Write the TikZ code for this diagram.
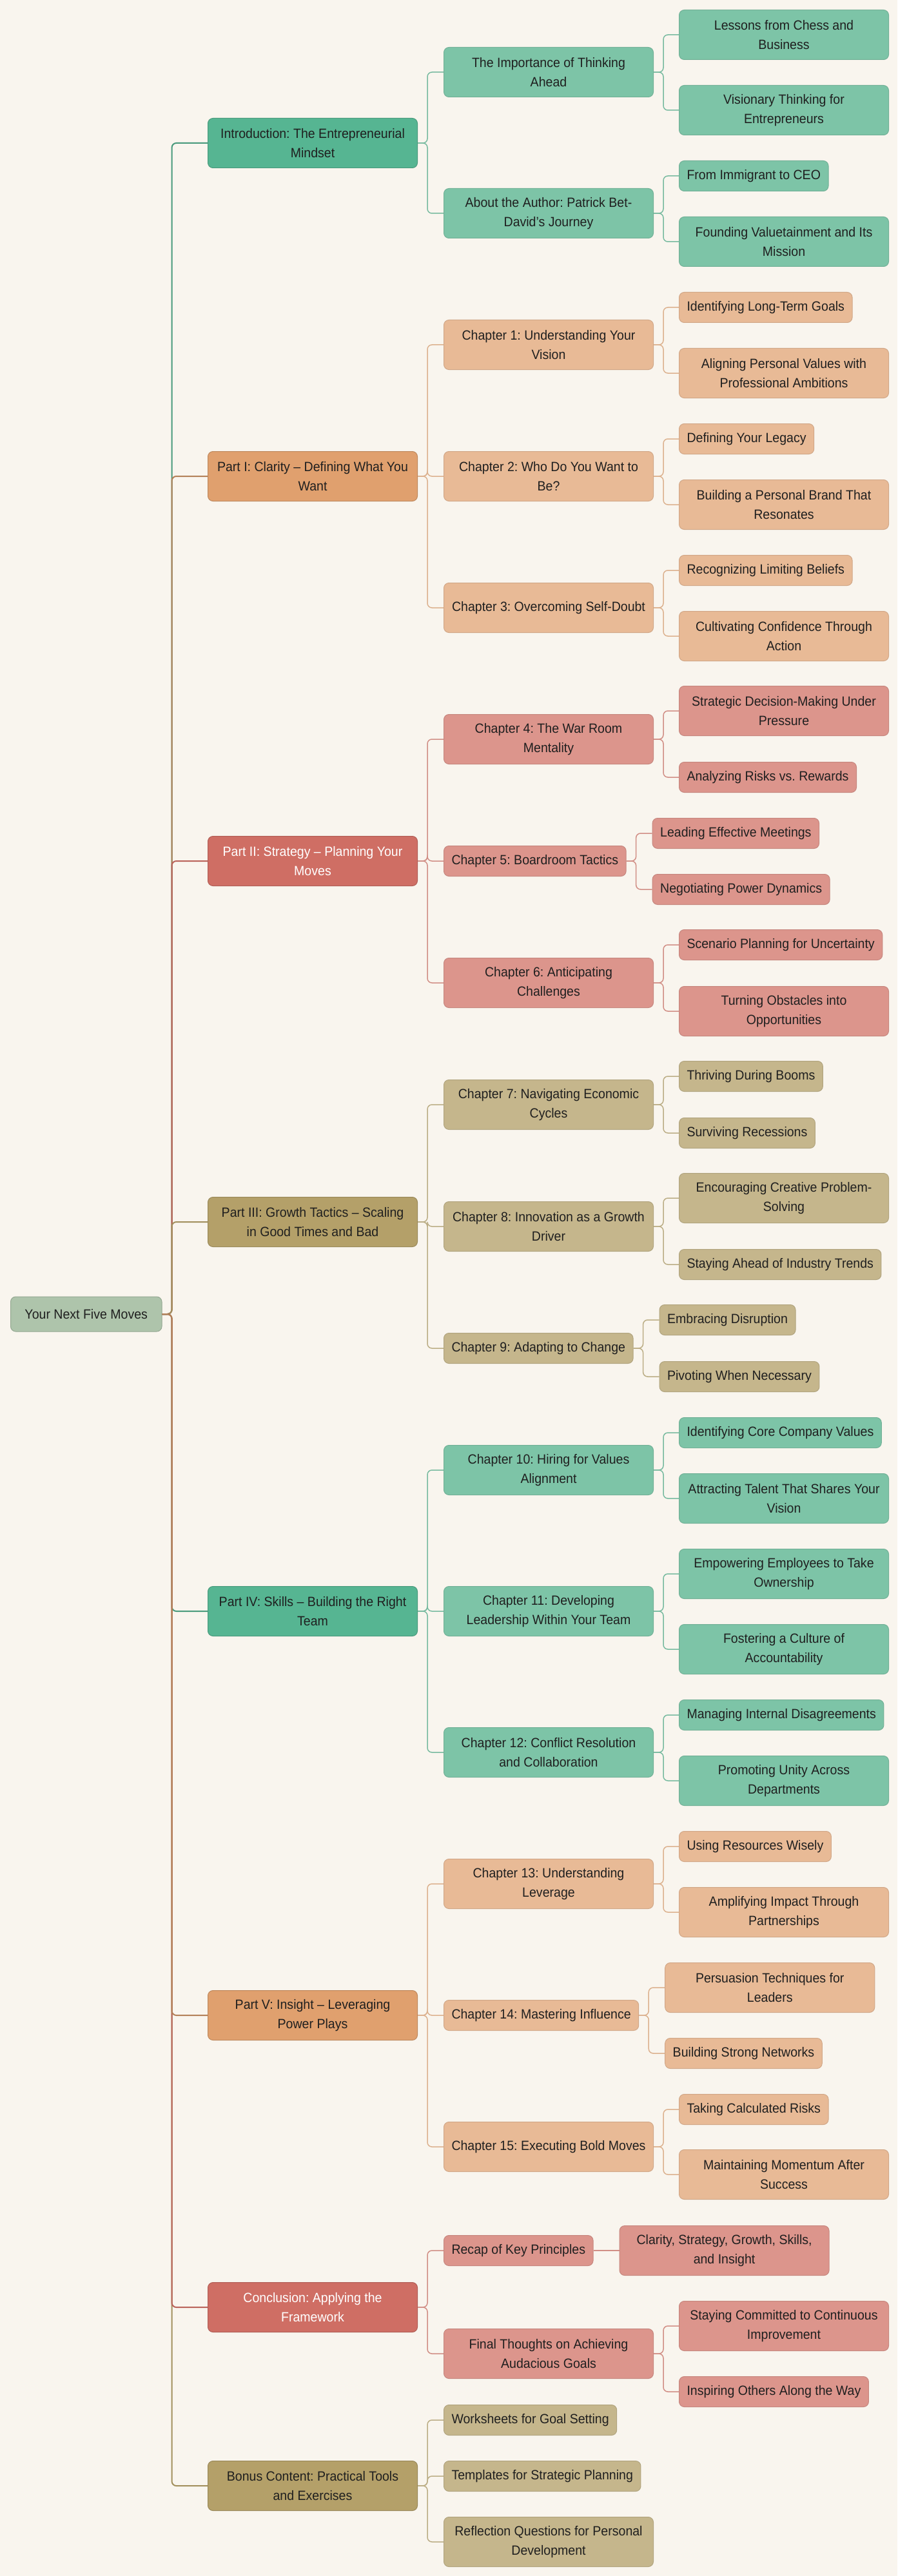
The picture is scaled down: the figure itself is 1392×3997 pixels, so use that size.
\documentclass[tikz,border=0pt]{standalone}
\usepackage{fontspec}
\setmainfont{Liberation Sans}[FakeStretch=0.94]
\usepackage{tikz}
\usetikzlibrary{calc}
\frenchspacing
\definecolor{paper}{HTML}{F9F5EE}
\definecolor{ink}{HTML}{1F1F1F}
\definecolor{sage}{HTML}{AEC4AB}
\definecolor{tealA}{HTML}{56B592}
\definecolor{tealB}{HTML}{7DC4A7}
\definecolor{orangeA}{HTML}{E0A06E}
\definecolor{orangeB}{HTML}{E8BA96}
\definecolor{redA}{HTML}{CF6E64}
\definecolor{redB}{HTML}{DC958C}
\definecolor{oliveA}{HTML}{B4A069}
\definecolor{oliveB}{HTML}{C5B68C}
\begin{document}
\begin{tikzpicture}
[x=0.5pt, y=-0.5pt,
box/.style={rounded corners=4pt, line width=0.5pt, inner xsep=6pt, inner ysep=2pt, align=center, anchor=west, text=ink, font=\fontsize{10.4pt}{15pt}\selectfont},
long box/.style={box, minimum width=162.5pt, minimum height=38.5pt},
short box/.style={box, minimum height=23.5pt},
core/.style={box, fill=sage, draw=sage!85!black, inner xsep=11pt, minimum height=27pt},
green part/.style={long box, fill=tealA, draw=tealA!85!black},
green chapter/.style={fill=tealB, draw=tealB!90!black},
orange part/.style={long box, fill=orangeA, draw=orangeA!85!black},
orange chapter/.style={fill=orangeB, draw=orangeB!90!black},
red part/.style={long box, fill=redA, draw=redA!85!black, text=white},
red chapter/.style={fill=redB, draw=redB!90!black},
olive part/.style={long box, fill=oliveA, draw=oliveA!85!black},
olive chapter/.style={fill=oliveB, draw=oliveB!90!black},
green trunk/.style={draw=tealA!85!black, line width=1pt, rounded corners=3.5pt},
orange trunk/.style={draw=orangeA!80!black, line width=1pt, rounded corners=3.5pt},
red trunk/.style={draw=redA!90!black, line width=1pt, rounded corners=3.5pt},
olive trunk/.style={draw=oliveA!90!black, line width=1pt, rounded corners=3.5pt},
green branch/.style={draw=tealB!95!black, line width=0.75pt, rounded corners=3.5pt},
orange branch/.style={draw=orangeB!95!black, line width=0.75pt, rounded corners=3.5pt},
red branch/.style={draw=redB!95!black, line width=0.75pt, rounded corners=3.5pt},
olive branch/.style={draw=oliveB!95!black, line width=0.75pt, rounded corners=3.5pt}]
\fill[paper] (0,0) rectangle (1392,3997);
\useasboundingbox (0,0) rectangle (1392,3997);
\node[core] (moves) at (16,2039) {Your Next Five Moves};
\node[green part] (intro) at (322,222) {Introduction: The Entrepreneurial\\Mindset};
\node[orange part] (clarity) at (322,739) {Part I: Clarity – Defining What You\\Want};
\node[red part] (strategy) at (322,1336) {Part II: Strategy – Planning Your\\Moves};
\node[olive part] (growth) at (322,1896) {Part III: Growth Tactics – Scaling\\in Good Times and Bad};
\node[green part] (skills) at (322,2500) {Part IV: Skills – Building the Right\\Team};
\node[orange part] (insight) at (322,3127) {Part V: Insight – Leveraging\\Power Plays};
\node[red part] (conclusion) at (322,3580) {Conclusion: Applying the\\Framework};
\node[olive part] (bonus) at (322,3857) {Bonus Content: Practical Tools\\and Exercises};
\node[green chapter, long box] (ahead) at (688,112) {The Importance of Thinking\\Ahead};
\node[green chapter, long box] (author) at (688,331) {About the Author: Patrick Bet-\\David’s Journey};
\node[orange chapter, long box] (chone) at (688,535) {Chapter 1: Understanding Your\\Vision};
\node[orange chapter, long box] (chtwo) at (688,739) {Chapter 2: Who Do You Want to\\Be?};
\node[orange chapter, long box] (chthree) at (688,943) {Chapter 3: Overcoming Self-Doubt};
\node[red chapter, long box] (chfour) at (688,1147) {Chapter 4: The War Room\\Mentality};
\node[red chapter, short box] (chfive) at (688,1336) {Chapter 5: Boardroom Tactics};
\node[red chapter, long box] (chsix) at (688,1525) {Chapter 6: Anticipating\\Challenges};
\node[olive chapter, long box] (chseven) at (688,1714) {Chapter 7: Navigating Economic\\Cycles};
\node[olive chapter, long box] (cheight) at (688,1903) {Chapter 8: Innovation as a Growth\\Driver};
\node[olive chapter, short box] (chnine) at (688,2092) {Chapter 9: Adapting to Change};
\node[green chapter, long box] (chten) at (688,2281) {Chapter 10: Hiring for Values\\Alignment};
\node[green chapter, long box] (cheleven) at (688,2500) {Chapter 11: Developing\\Leadership Within Your Team};
\node[green chapter, long box] (chtwelve) at (688,2719) {Chapter 12: Conflict Resolution\\and Collaboration};
\node[orange chapter, long box] (chthirteen) at (688,2923) {Chapter 13: Understanding\\Leverage};
\node[orange chapter, short box] (chfourteen) at (688,3127) {Chapter 14: Mastering Influence};
\node[orange chapter, long box] (chfifteen) at (688,3331) {Chapter 15: Executing Bold Moves};
\node[red chapter, short box] (recap) at (688,3492) {Recap of Key Principles};
\node[red chapter, long box] (final) at (688,3652) {Final Thoughts on Achieving\\Audacious Goals};
\node[olive chapter, short box] (worksheets) at (688,3755) {Worksheets for Goal Setting};
\node[olive chapter, short box] (templates) at (688,3842) {Templates for Strategic Planning};
\node[olive chapter, long box] (reflection) at (688,3944) {Reflection Questions for Personal\\Development};
\node[green chapter, long box] (chess) at (1053,54) {Lessons from Chess and\\Business};
\node[green chapter, long box] (visionary) at (1053,171) {Visionary Thinking for\\Entrepreneurs};
\node[green chapter, short box] (immigrant) at (1053,273) {From Immigrant to CEO};
\node[green chapter, long box] (founding) at (1053,375) {Founding Valuetainment and Its\\Mission};
\node[orange chapter, short box] (goals) at (1053,477) {Identifying Long-Term Goals};
\node[orange chapter, long box] (aligning) at (1053,579) {Aligning Personal Values with\\Professional Ambitions};
\node[orange chapter, short box] (legacy) at (1053,681) {Defining Your Legacy};
\node[orange chapter, long box] (brand) at (1053,783) {Building a Personal Brand That\\Resonates};
\node[orange chapter, short box] (beliefs) at (1053,885) {Recognizing Limiting Beliefs};
\node[orange chapter, long box] (confidence) at (1053,987) {Cultivating Confidence Through\\Action};
\node[red chapter, long box] (pressure) at (1053,1103) {Strategic Decision-Making Under\\Pressure};
\node[red chapter, short box] (rewards) at (1053,1206) {Analyzing Risks vs. Rewards};
\node[red chapter, short box] (meetings) at ($(chfive.east)+(40,-43)$) {Leading Effective Meetings};
\node[red chapter, short box] (dynamics) at ($(chfive.east)+(40,44)$) {Negotiating Power Dynamics};
\node[red chapter, short box] (scenario) at (1053,1466) {Scenario Planning for Uncertainty};
\node[red chapter, long box] (obstacles) at (1053,1569) {Turning Obstacles into\\Opportunities};
\node[olive chapter, short box] (booms) at (1053,1670) {Thriving During Booms};
\node[olive chapter, short box] (recessions) at (1053,1758) {Surviving Recessions};
\node[olive chapter, long box] (creative) at (1053,1859) {Encouraging Creative Problem-\\Solving};
\node[olive chapter, short box] (trends) at (1053,1962) {Staying Ahead of Industry Trends};
\node[olive chapter, short box] (disruption) at ($(chnine.east)+(40,-44)$) {Embracing Disruption};
\node[olive chapter, short box] (pivoting) at ($(chnine.east)+(40,44)$) {Pivoting When Necessary};
\node[green chapter, short box] (values) at (1053,2223) {Identifying Core Company Values};
\node[green chapter, long box] (talent) at (1053,2325) {Attracting Talent That Shares Your\\Vision};
\node[green chapter, long box] (ownership) at (1053,2442) {Empowering Employees to Take\\Ownership};
\node[green chapter, long box] (accountability) at (1053,2559) {Fostering a Culture of\\Accountability};
\node[green chapter, short box] (disagreements) at (1053,2661) {Managing Internal Disagreements};
\node[green chapter, long box] (unity) at (1053,2763) {Promoting Unity Across\\Departments};
\node[orange chapter, short box] (resources) at (1053,2865) {Using Resources Wisely};
\node[orange chapter, long box] (partnerships) at (1053,2967) {Amplifying Impact Through\\Partnerships};
\node[orange chapter, long box] (persuasion) at ($(chfourteen.east)+(40,-43)$) {Persuasion Techniques for\\Leaders};
\node[orange chapter, short box] (networks) at ($(chfourteen.east)+(40,59)$) {Building Strong Networks};
\node[orange chapter, short box] (calculated) at (1053,3273) {Taking Calculated Risks};
\node[orange chapter, long box] (momentum) at (1053,3374) {Maintaining Momentum After\\Success};
\node[red chapter, long box] (principles) at ($(recap.east)+(40,0)$) {Clarity, Strategy, Growth, Skills,\\and Insight};
\node[red chapter, long box] (committed) at (1053,3609) {Staying Committed to Continuous\\Improvement};
\node[red chapter, short box] (inspiring) at (1053,3711) {Inspiring Others Along the Way};
\draw[green trunk] (intro.west) -| ([xshift=7.5pt]moves.east) [sharp corners] -- (moves.east);
\draw[orange trunk] (clarity.west) -| ([xshift=7.5pt]moves.east) [sharp corners] -- (moves.east);
\draw[red trunk] (strategy.west) -| ([xshift=7.5pt]moves.east) [sharp corners] -- (moves.east);
\draw[olive trunk] (growth.west) -| ([xshift=7.5pt]moves.east) [sharp corners] -- (moves.east);
\draw[green trunk] (skills.west) -| ([xshift=7.5pt]moves.east) [sharp corners] -- (moves.east);
\draw[olive trunk] (bonus.west) -| ([xshift=7.5pt]moves.east) [sharp corners] -- (moves.east);
\draw[red trunk] (conclusion.west) -| ([xshift=7.5pt]moves.east) [sharp corners] -- (moves.east);
\draw[orange trunk] (insight.west) -| ([xshift=7.5pt]moves.east) [sharp corners] -- (moves.east);
\draw[green branch] (ahead.west) -| ([xshift=7.5pt]intro.east) [sharp corners] -- (intro.east);
\draw[green branch] (author.west) -| ([xshift=7.5pt]intro.east) [sharp corners] -- (intro.east);
\draw[orange branch] (chone.west) -| ([xshift=7.5pt]clarity.east) [sharp corners] -- (clarity.east);
\draw[orange branch] (chtwo.west) -| ([xshift=7.5pt]clarity.east) [sharp corners] -- (clarity.east);
\draw[orange branch] (chthree.west) -| ([xshift=7.5pt]clarity.east) [sharp corners] -- (clarity.east);
\draw[red branch] (chfour.west) -| ([xshift=7.5pt]strategy.east) [sharp corners] -- (strategy.east);
\draw[red branch] (chfive.west) -| ([xshift=7.5pt]strategy.east) [sharp corners] -- (strategy.east);
\draw[red branch] (chsix.west) -| ([xshift=7.5pt]strategy.east) [sharp corners] -- (strategy.east);
\draw[olive branch] (chseven.west) -| ([xshift=7.5pt]growth.east) [sharp corners] -- (growth.east);
\draw[olive branch] (cheight.west) -| ([xshift=7.5pt]growth.east) [sharp corners] -- (growth.east);
\draw[olive branch] (chnine.west) -| ([xshift=7.5pt]growth.east) [sharp corners] -- (growth.east);
\draw[green branch] (chten.west) -| ([xshift=7.5pt]skills.east) [sharp corners] -- (skills.east);
\draw[green branch] (cheleven.west) -| ([xshift=7.5pt]skills.east) [sharp corners] -- (skills.east);
\draw[green branch] (chtwelve.west) -| ([xshift=7.5pt]skills.east) [sharp corners] -- (skills.east);
\draw[orange branch] (chthirteen.west) -| ([xshift=7.5pt]insight.east) [sharp corners] -- (insight.east);
\draw[orange branch] (chfourteen.west) -| ([xshift=7.5pt]insight.east) [sharp corners] -- (insight.east);
\draw[orange branch] (chfifteen.west) -| ([xshift=7.5pt]insight.east) [sharp corners] -- (insight.east);
\draw[red branch] (recap.west) -| ([xshift=7.5pt]conclusion.east) [sharp corners] -- (conclusion.east);
\draw[red branch] (final.west) -| ([xshift=7.5pt]conclusion.east) [sharp corners] -- (conclusion.east);
\draw[olive branch] (worksheets.west) -| ([xshift=7.5pt]bonus.east) [sharp corners] -- (bonus.east);
\draw[olive branch] (templates.west) -| ([xshift=7.5pt]bonus.east) [sharp corners] -- (bonus.east);
\draw[olive branch] (reflection.west) -| ([xshift=7.5pt]bonus.east) [sharp corners] -- (bonus.east);
\draw[green branch] (chess.west) -| ([xshift=7.5pt]ahead.east) [sharp corners] -- (ahead.east);
\draw[green branch] (visionary.west) -| ([xshift=7.5pt]ahead.east) [sharp corners] -- (ahead.east);
\draw[green branch] (immigrant.west) -| ([xshift=7.5pt]author.east) [sharp corners] -- (author.east);
\draw[green branch] (founding.west) -| ([xshift=7.5pt]author.east) [sharp corners] -- (author.east);
\draw[orange branch] (goals.west) -| ([xshift=7.5pt]chone.east) [sharp corners] -- (chone.east);
\draw[orange branch] (aligning.west) -| ([xshift=7.5pt]chone.east) [sharp corners] -- (chone.east);
\draw[orange branch] (legacy.west) -| ([xshift=7.5pt]chtwo.east) [sharp corners] -- (chtwo.east);
\draw[orange branch] (brand.west) -| ([xshift=7.5pt]chtwo.east) [sharp corners] -- (chtwo.east);
\draw[orange branch] (beliefs.west) -| ([xshift=7.5pt]chthree.east) [sharp corners] -- (chthree.east);
\draw[orange branch] (confidence.west) -| ([xshift=7.5pt]chthree.east) [sharp corners] -- (chthree.east);
\draw[red branch] (pressure.west) -| ([xshift=7.5pt]chfour.east) [sharp corners] -- (chfour.east);
\draw[red branch] (rewards.west) -| ([xshift=7.5pt]chfour.east) [sharp corners] -- (chfour.east);
\draw[red branch] (meetings.west) -| ([xshift=7.5pt]chfive.east) [sharp corners] -- (chfive.east);
\draw[red branch] (dynamics.west) -| ([xshift=7.5pt]chfive.east) [sharp corners] -- (chfive.east);
\draw[red branch] (scenario.west) -| ([xshift=7.5pt]chsix.east) [sharp corners] -- (chsix.east);
\draw[red branch] (obstacles.west) -| ([xshift=7.5pt]chsix.east) [sharp corners] -- (chsix.east);
\draw[olive branch] (booms.west) -| ([xshift=7.5pt]chseven.east) [sharp corners] -- (chseven.east);
\draw[olive branch] (recessions.west) -| ([xshift=7.5pt]chseven.east) [sharp corners] -- (chseven.east);
\draw[olive branch] (creative.west) -| ([xshift=7.5pt]cheight.east) [sharp corners] -- (cheight.east);
\draw[olive branch] (trends.west) -| ([xshift=7.5pt]cheight.east) [sharp corners] -- (cheight.east);
\draw[olive branch] (disruption.west) -| ([xshift=7.5pt]chnine.east) [sharp corners] -- (chnine.east);
\draw[olive branch] (pivoting.west) -| ([xshift=7.5pt]chnine.east) [sharp corners] -- (chnine.east);
\draw[green branch] (values.west) -| ([xshift=7.5pt]chten.east) [sharp corners] -- (chten.east);
\draw[green branch] (talent.west) -| ([xshift=7.5pt]chten.east) [sharp corners] -- (chten.east);
\draw[green branch] (ownership.west) -| ([xshift=7.5pt]cheleven.east) [sharp corners] -- (cheleven.east);
\draw[green branch] (accountability.west) -| ([xshift=7.5pt]cheleven.east) [sharp corners] -- (cheleven.east);
\draw[green branch] (disagreements.west) -| ([xshift=7.5pt]chtwelve.east) [sharp corners] -- (chtwelve.east);
\draw[green branch] (unity.west) -| ([xshift=7.5pt]chtwelve.east) [sharp corners] -- (chtwelve.east);
\draw[orange branch] (resources.west) -| ([xshift=7.5pt]chthirteen.east) [sharp corners] -- (chthirteen.east);
\draw[orange branch] (partnerships.west) -| ([xshift=7.5pt]chthirteen.east) [sharp corners] -- (chthirteen.east);
\draw[orange branch] (persuasion.west) -| ([xshift=7.5pt]chfourteen.east) [sharp corners] -- (chfourteen.east);
\draw[orange branch] (networks.west) -| ([xshift=7.5pt]chfourteen.east) [sharp corners] -- (chfourteen.east);
\draw[orange branch] (calculated.west) -| ([xshift=7.5pt]chfifteen.east) [sharp corners] -- (chfifteen.east);
\draw[orange branch] (momentum.west) -| ([xshift=7.5pt]chfifteen.east) [sharp corners] -- (chfifteen.east);
\draw[red branch] (principles.west) -- (recap.east);
\draw[red branch] (committed.west) -| ([xshift=7.5pt]final.east) [sharp corners] -- (final.east);
\draw[red branch] (inspiring.west) -| ([xshift=7.5pt]final.east) [sharp corners] -- (final.east);
\end{tikzpicture}
\end{document}
